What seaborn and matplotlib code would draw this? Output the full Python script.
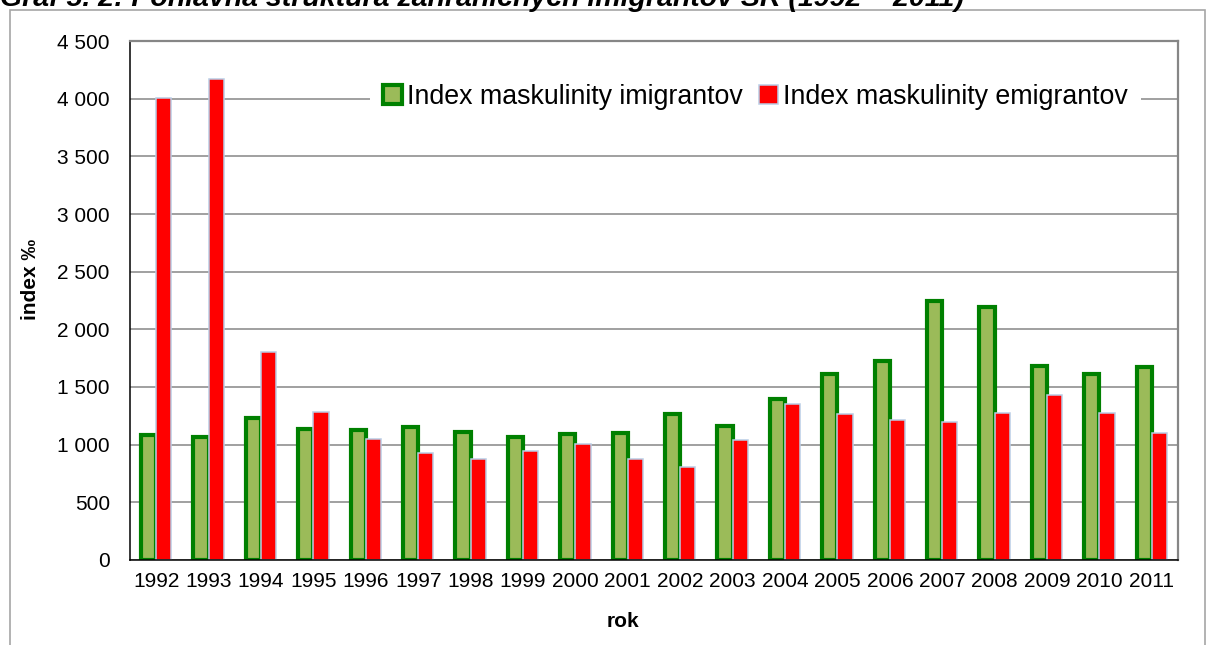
import numpy as np
import pandas as pd
import matplotlib
matplotlib.use('Agg')
import matplotlib.pyplot as plt
import seaborn as sns
from matplotlib.ticker import FuncFormatter, MultipleLocator, FixedLocator
from matplotlib.patches import Rectangle

# data
roky = [str(r) for r in range(1992, 2012)]
imigranti = [1080, 1065, 1233, 1135, 1123, 1155, 1114, 1065, 1090, 1100,
             1268, 1160, 1399, 1617, 1722, 2249, 2193, 1683, 1617, 1670]
emigranti = [4005, 4170, 1805, 1281, 1052, 924, 878, 945, 1010, 880,
             809, 1042, 1350, 1266, 1210, 1199, 1271, 1432, 1271, 1097]
lab_imig = 'Index maskulinity imigrantov'
lab_emig = 'Index maskulinity emigrantov'
titulok = 'Graf 5. 2: Pohlavná štruktúra zahraničných imigrantov SR (1992 – 2011)'

df = pd.DataFrame({'rok': roky * 2,
                   'index': imigranti + emigranti,
                   'rad': [lab_imig] * len(roky) + [lab_emig] * len(roky)})

sns.set_style('white')
plt.rcParams['font.family'] = ['Liberation Sans', 'DejaVu Sans']
plt.rcParams['text.color'] = 'black'
plt.rcParams['axes.labelcolor'] = 'black'
plt.rcParams['xtick.color'] = 'black'
plt.rcParams['ytick.color'] = 'black'

fig = plt.figure(figsize=(12.08, 6.45), dpi=100)
ax = fig.add_axes([0.1076, 0.1318, 0.8676, 0.8046])

sns.barplot(data=df, x='rok', y='index', hue='rad', palette=['#9BBB59', '#FF0000'],
            width=0.58, saturation=1, errorbar=None, legend=False, ax=ax)

# bar edges
zel, cerv = ax.containers[0], ax.containers[1]
for p in zel.patches:
    p.set_edgecolor('#008000')
    p.set_linewidth(3.0)
for p in cerv.patches:
    p.set_edgecolor('#B9CDE5')
    p.set_linewidth(1.1)

ax.set_ylim(0, 4500)
ax.set_xlim(-0.5, len(roky) - 0.5)
ax.yaxis.set_major_locator(MultipleLocator(500))
ax.yaxis.set_major_formatter(FuncFormatter(lambda v, pos: f'{int(v):,}'.replace(',', ' ')))
ax.yaxis.grid(True, color='#868686', lw=1.1)
ax.set_axisbelow(True)

ax.xaxis.set_minor_locator(FixedLocator(np.arange(-0.5, len(roky), 1.0)))
ax.tick_params(axis='x', which='major', length=0, labelsize=15, pad=9)
ax.tick_params(axis='x', which='minor', direction='inout', length=7, width=0.8, color='black')
ax.tick_params(axis='y', which='major', direction='inout', length=7, width=0.8,
               color='black', labelsize=15, pad=11)

for s in ['left', 'bottom']:
    ax.spines[s].set_color('black')
    ax.spines[s].set_linewidth(1.1)
for s in ['top', 'right']:
    ax.spines[s].set_visible(True)
    ax.spines[s].set_color('#868686')
    ax.spines[s].set_linewidth(1.6)

ax.set_xlabel('rok', fontsize=15, fontweight='bold')
ax.set_ylabel('index ‰', fontsize=15, fontweight='bold')
ax.xaxis.set_label_coords(0.47, -0.1)
ax.yaxis.set_label_coords(-0.086, 0.54)

leg = ax.legend(handles=[zel, cerv], labels=[lab_imig, lab_emig], ncol=2,
                loc='center', bbox_to_anchor=(0.597, 0.892), fontsize=19.3,
                frameon=True, fancybox=False, facecolor='white', edgecolor='none',
                framealpha=1, handlelength=0.7, handleheight=0.7,
                handletextpad=0.2, columnspacing=0.6, borderpad=0.5)

# outer chart frame and the cut-off title
fig.add_artist(Rectangle((10 / 1208, -0.05), 1195 / 1208, 1.05 - 10 / 645,
                         transform=fig.transFigure, fill=False,
                         edgecolor='#A6A6A6', lw=1.2, clip_on=False))
fig.text(0.0, 1 - 6 / 645, titulok, fontsize=20.5, fontweight='bold',
         fontstyle='italic', va='baseline', ha='left')

fig.savefig('out.png', dpi=100)
